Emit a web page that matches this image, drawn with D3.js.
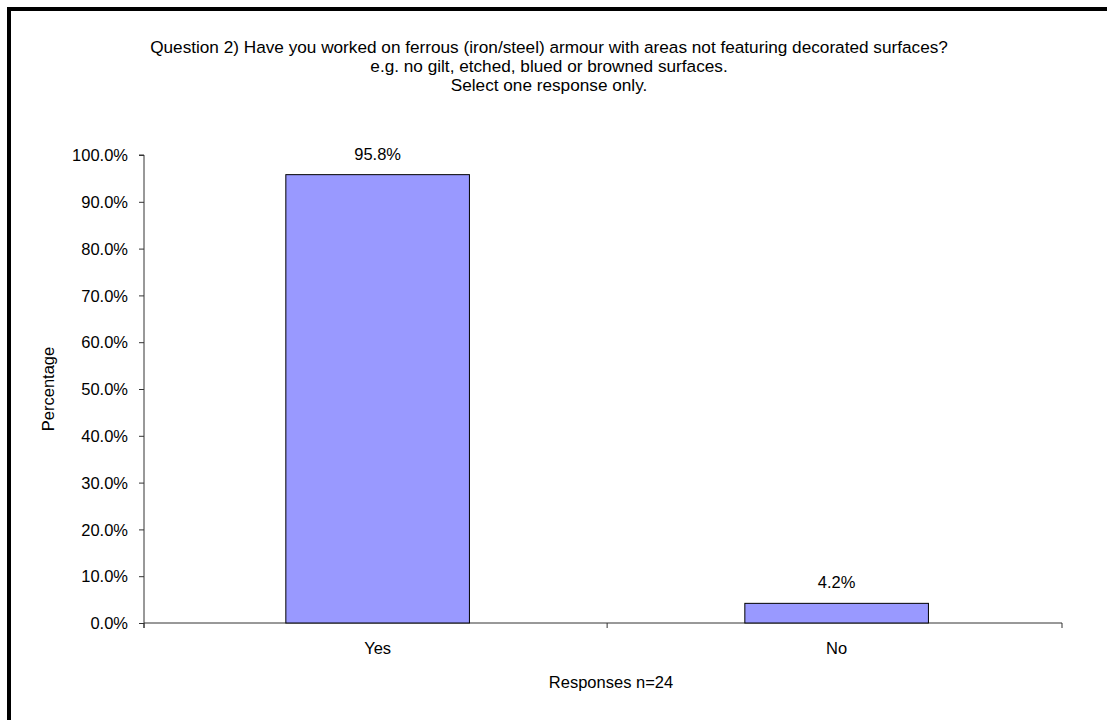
<!DOCTYPE html>
<html>
<head>
<meta charset="utf-8">
<script src="https://cdn.jsdelivr.net/npm/d3@7"></script>
<style>
  body { margin: 0; background: #fff; }
  svg { display: block; font-family: 'Liberation Sans', Arial, sans-serif; }
</style>
</head>
<body>
<svg id="chart" width="1107" height="720"></svg>
<script>
const categories = ['Yes', 'No'];
const percentages = [95.8, 4.2];
const yTicks = [0, 10, 20, 30, 40, 50, 60, 70, 80, 90, 100];
const titleLines = [
  'Question 2) Have you worked on ferrous (iron/steel) armour with areas not featuring decorated surfaces?',
  'e.g. no gilt, etched, blued or browned surfaces.',
  'Select one response only.'
];

const svg = d3.select('#chart');
const margin = { top: 155, right: 45, bottom: 97, left: 144 };
const width = 1107 - margin.left - margin.right;
const height = 720 - margin.top - margin.bottom;
const fontSize = 16.5;

// chart frame (cut off at right and bottom)
svg.append('rect')
  .attr('x', 9).attr('y', 9)
  .attr('width', 1200).attr('height', 800)
  .attr('fill', 'none')
  .attr('stroke', '#000')
  .attr('stroke-width', 4);

// title
svg.append('g')
  .selectAll('text')
  .data(titleLines)
  .enter()
  .append('text')
  .attr('x', 549)
  .attr('y', (d, i) => 53 + i * 19)
  .attr('text-anchor', 'middle')
  .attr('font-size', 17.2)
  .attr('fill', '#000')
  .text(d => d);

const g = svg.append('g').attr('transform', `translate(${margin.left},${margin.top})`);

const x = d3.scaleBand().domain(categories).range([0, width])
  .paddingInner(0.6).paddingOuter(0.3).align(0.515);
const y = d3.scaleLinear().domain([0, 100]).range([height, 0]);

// y axis
const yAxis = g.append('g')
  .call(d3.axisLeft(y).tickValues(yTicks).tickSize(5).tickPadding(11).tickFormat(d => d3.format('.1f')(d) + '%'));
yAxis.select('.domain').attr('stroke', '#333').attr('d', `M-5,0H0V${height + 5}`);
yAxis.selectAll('.tick line').attr('stroke', '#333');
yAxis.selectAll('.tick text').attr('font-size', fontSize).attr('fill', '#000').attr('dy', '0.35em');

// x axis
const xAxis = g.append('g').attr('transform', `translate(0,${height})`);
xAxis.append('line')
  .attr('x1', 0).attr('x2', width)
  .attr('stroke', '#333');
const boundaries = [0, x(categories[0]) + x.bandwidth() / 2 + x.step() / 2, width];
xAxis.selectAll('.xtick')
  .data(boundaries)
  .enter()
  .append('line')
  .attr('class', 'xtick')
  .attr('x1', d => d).attr('x2', d => d)
  .attr('y1', 0).attr('y2', 5)
  .attr('stroke', '#333');
xAxis.selectAll('.xlabel')
  .data(categories)
  .enter()
  .append('text')
  .attr('class', 'xlabel')
  .attr('x', d => x(d) + x.bandwidth() / 2)
  .attr('y', 31)
  .attr('text-anchor', 'middle')
  .attr('font-size', fontSize)
  .text(d => d);

// bars
g.selectAll('.bar')
  .data(categories)
  .enter()
  .append('rect')
  .attr('class', 'bar')
  .attr('x', d => x(d))
  .attr('y', (d, i) => y(percentages[i]))
  .attr('width', x.bandwidth())
  .attr('height', (d, i) => height - y(percentages[i]))
  .attr('fill', '#9999FF')
  .attr('stroke', '#000')
  .attr('stroke-width', 1);

// value labels
g.selectAll('.val')
  .data(categories)
  .enter()
  .append('text')
  .attr('class', 'val')
  .attr('x', d => x(d) + x.bandwidth() / 2)
  .attr('y', (d, i) => y(percentages[i]) - 15)
  .attr('text-anchor', 'middle')
  .attr('font-size', fontSize)
  .text((d, i) => d3.format('.1f')(percentages[i]) + '%');

// axis titles
svg.append('text')
  .attr('transform', 'translate(54,389) rotate(-90)')
  .attr('text-anchor', 'middle')
  .attr('font-size', fontSize)
  .text('Percentage');

svg.append('text')
  .attr('x', 611)
  .attr('y', 688)
  .attr('text-anchor', 'middle')
  .attr('font-size', fontSize)
  .text('Responses n=24');
</script>
</body>
</html>
